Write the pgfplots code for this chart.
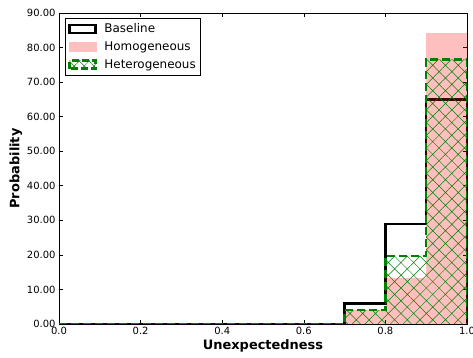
\documentclass[border=0pt]{standalone}
\usepackage{fontspec}
\setmainfont{DejaVu Sans}
\usepackage{pgfplots}
\pgfplotsset{compat=1.18}
\usetikzlibrary{patterns.meta}
\definecolor{mplgreen}{rgb}{0,0.5,0}
\begin{document}
\begin{tikzpicture}
\begin{axis}[
  name=main,
  scale only axis,
  width=408bp, height=311bp,
  xmin=0, xmax=1, ymin=0, ymax=90,
  xtick={0,0.2,0.4,0.6,0.8,1.0},
  ytick={0,10,...,90},
  tick align=inside,
  major tick length=4bp,
  tick style={black, line width=0.6pt},
  axis line style={black, line width=0.8pt},
  /pgf/number format/assume math mode=true,
  xticklabel style={/pgf/number format/.cd, fixed, fixed zerofill, precision=1},
  yticklabel style={/pgf/number format/.cd, fixed, fixed zerofill, precision=2},
  ticklabel style={font=\fontsize{10}{12}\selectfont},
  xlabel={\textbf{Unexpectedness}},
  ylabel={\textbf{Probability}},
  label style={font=\fontsize{13}{15}\selectfont},
  xlabel style={yshift=2bp},
  ylabel style={yshift=-2bp},
  legend style={at={(0.015,0.984)}, anchor=north west, draw=black, line width=0.6pt,
    font=\fontsize{12}{14}\selectfont, row sep=4.5bp, inner xsep=3bp, inner ysep=4bp,
    nodes={inner sep=1.5bp},
    /tikz/every odd column/.append style={column sep=6bp}},
  legend cell align=left,
]
% legend entries
\addlegendimage{legend image code/.code={\draw[black, line width=2.5bp, fill=none] (0bp,-4bp) rectangle (26bp,4bp);}}
\addlegendentry{Baseline}
\addlegendimage{legend image code/.code={\path[draw=none, fill=red, fill opacity=0.25] (-1bp,-5bp) rectangle (27bp,5bp);}}
\addlegendentry{Homogeneous}
\addlegendimage{legend image code/.code={\path[draw=none, pattern={Hatch[angle=45,distance=7bp,line width=0.5bp]}, pattern color=mplgreen] (0bp,-4bp) rectangle (26bp,4bp);
  \draw[mplgreen, line width=2.5bp, dash pattern=on 7bp off 3bp, fill=none] (0bp,-4bp) rectangle (26bp,4bp);}}
\addlegendentry{Heterogeneous}
% Baseline
\addplot[const plot, black, line width=2.5bp, forget plot] coordinates {
  (0,0) (0.1,0) (0.2,0) (0.3,0) (0.4,0) (0.5,0) (0.6,0) (0.7,6) (0.8,29) (0.9,65) (1.0,65) (1.0,0)};
% Homogeneous
\addplot[const plot, draw=none, fill=red, fill opacity=0.25, forget plot] coordinates {
  (0,0) (0.1,0) (0.2,0) (0.3,0) (0.4,0) (0.5,0) (0.6,0) (0.7,4) (0.8,13.3) (0.9,84.2) (1.0,84.2)} \closedcycle;
% Heterogeneous hatch
\addplot[const plot, draw=none, pattern={Hatch[angle=45,distance=9bp,line width=0.5bp]}, pattern color=mplgreen, forget plot] coordinates {
  (0,0) (0.1,0) (0.2,0) (0.3,0) (0.4,0) (0.5,0) (0.6,0) (0.7,4) (0.8,19.7) (0.9,76.6) (1.0,76.6)} \closedcycle;
% Heterogeneous outline
\addplot[const plot, mplgreen, line width=2.5bp, dash pattern=on 8bp off 4bp, forget plot] coordinates {
  (0,0) (0.1,0) (0.2,0) (0.3,0) (0.4,0) (0.5,0) (0.6,0) (0.7,4) (0.8,19.7) (0.9,76.6) (1.0,76.6) (1.0,0)};
\end{axis}
\pgfresetboundingbox
\useasboundingbox ([xshift=-59bp,yshift=-34bp]main.south west) rectangle ([xshift=6bp,yshift=13bp]main.north east);
\end{tikzpicture}
\end{document}
